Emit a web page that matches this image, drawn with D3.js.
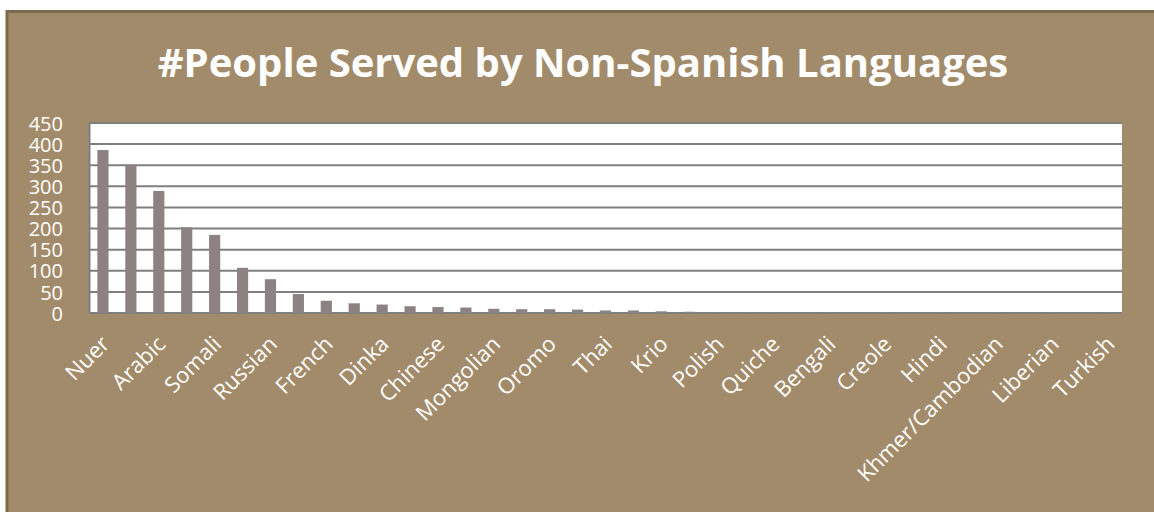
<!DOCTYPE html>
<html>
<head>
<meta charset="utf-8">
<script src="https://cdn.jsdelivr.net/npm/d3@7"></script>
<style>
  html, body { margin: 0; padding: 0; background: #fff; }
  svg { display: block; }
</style>
</head>
<body>
<div id="chart"></div>
<script>
// Languages, sorted by people served. Only every other name is printed on the axis,
// the skipped ones could not be read from the picture and are left blank.
const languages = [
  "Nuer", "", "Arabic", "", "Somali", "", "Russian", "", "French", "",
  "Dinka", "", "Chinese", "", "Mongolian", "", "Oromo", "", "Thai", "",
  "Krio", "", "Polish", "", "Quiche", "", "Bengali", "", "Creole", "",
  "Hindi", "", "Khmer/Cambodian", "", "Liberian", "", "Turkish"
];
const peopleServed = [
  386, 351, 289, 203, 185, 107, 80, 45, 29, 23,
  20, 16, 14, 13, 10, 9, 9, 8, 6, 6,
  4, 3, 1, 1, 1, 1, 1, 1, 1, 1,
  1, 1, 1, 1, 1, 1, 1
];
const yTicks = [0, 50, 100, 150, 200, 250, 300, 350, 400, 450];
const title = "#People Served by Non-Spanish Languages";

const width = 1154;
const height = 512;

// plot area (white box)
const plot = { left: 89, right: 1122, top: 123, bottom: 313 };

const svg = d3.select("#chart")
    .append("svg")
    .attr("width", width)
    .attr("height", height);

// tan frame, its right and bottom edges run off the page
svg.append("rect")
    .attr("x", 7)
    .attr("y", 11.5)
    .attr("width", width + 20)
    .attr("height", height + 20)
    .attr("fill", "#a28b6a")
    .attr("stroke", "#7b6b4d")
    .attr("stroke-width", 3);

svg.append("text")
    .attr("x", 583)
    .attr("y", 77)
    .attr("text-anchor", "middle")
    .attr("fill", "#fff")
    .style("font-family", "'Open Sans', sans-serif")
    .style("font-weight", "bold")
    .style("font-size", "40px")
    .text(title);

svg.append("rect")
    .attr("x", plot.left)
    .attr("y", plot.top)
    .attr("width", plot.right - plot.left)
    .attr("height", plot.bottom - plot.top)
    .attr("fill", "#fff");

const idx = d3.range(languages.length);

const x = d3.scaleBand()
    .domain(idx)
    .range([plot.left, plot.right])
    .paddingInner(0.6)
    .paddingOuter(0.3);

const y = d3.scaleLinear()
    .domain([0, 450])
    .range([plot.bottom, plot.top]);

// gridlines
svg.append("g")
    .selectAll("line")
    .data(yTicks)
    .enter()
    .append("line")
    .attr("x1", plot.left)
    .attr("x2", plot.right)
    .attr("y1", d => y(d))
    .attr("y2", d => y(d))
    .attr("stroke", "#7f7f7f")
    .attr("stroke-width", 2);

// bars
svg.append("g")
    .selectAll("rect")
    .data(idx)
    .enter()
    .append("rect")
    .attr("x", i => x(i))
    .attr("y", i => y(peopleServed[i]))
    .attr("width", x.bandwidth())
    .attr("height", i => y(0) - y(peopleServed[i]))
    .attr("fill", "#8c8282");

// y axis
const yAxis = svg.append("g")
    .attr("transform", `translate(${plot.left},0)`)
    .call(d3.axisLeft(y).tickValues(yTicks).tickSize(0).tickPadding(26));
yAxis.select(".domain").attr("stroke", "#7f7f7f").attr("stroke-width", 2);
yAxis.selectAll("text")
    .attr("fill", "#fff")
    .attr("dy", "0.36em")
    .style("font-family", "'Open Sans', sans-serif")
    .style("font-size", "20px");

// x labels (every other category), rotated
svg.append("g")
    .selectAll("text")
    .data(idx.filter(i => languages[i] !== ""))
    .enter()
    .append("text")
    .attr("transform", i => `translate(${x(i) + x.bandwidth() / 2 + 8},345.5) rotate(-45)`)
    .attr("text-anchor", "end")
    .attr("fill", "#fff")
    .style("font-family", "'Open Sans', sans-serif")
    .style("font-size", "22px")
    .text(i => languages[i]);
</script>
</body>
</html>
